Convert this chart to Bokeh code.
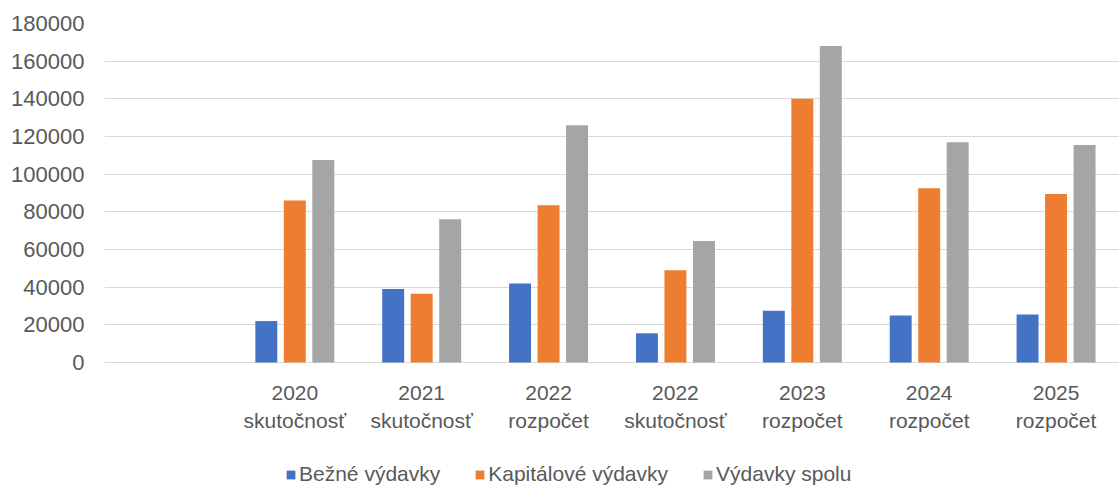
import numpy as np
from bokeh.plotting import figure
from bokeh.models import (Range1d, FixedTicker, NumeralTickFormatter,
                          Legend, LegendItem, ColumnDataSource)
from bokeh.core.properties import value
from bokeh.embed import file_html
from bokeh.resources import INLINE

# ---- data ----
years = ["", "2020", "2021", "2022", "2022", "2023", "2024", "2025"]
kinds = ["", "skutočnosť", "skutočnosť", "rozpočet", "skutočnosť", "rozpočet", "rozpočet", "rozpočet"]
bezne = [np.nan, 22000, 39000, 42000, 15500, 27500, 25000, 25500]
kapitalove = [np.nan, 86000, 36500, 83500, 49000, 140000, 92500, 89500]
spolu = [np.nan, 107500, 76000, 126000, 64500, 168000, 117000, 115500]
series_names = ["Bežné výdavky", "Kapitálové výdavky", "Výdavky spolu"]
colors = ["#4472C4", "#ED7D31", "#A5A5A5"]
y_ticks = [0, 20000, 40000, 60000, 80000, 100000, 120000, 140000, 160000, 180000]

FONT = "Liberation Sans"
TXT = "#595959"

W, H = 1119, 486
TOP, LEFT = 23, 104
PLOT_H = 339  # pixel height of the 0..180000 value area
y_max = 180000
y_min = -y_max * (H - TOP - PLOT_H) / PLOT_H  # space under the bars for labels and legend

n = len(years)
centers = np.arange(n) + 0.5

p = figure(width=W, height=H, output_backend="svg", toolbar_location=None,
           x_range=Range1d(0, n), y_range=Range1d(y_min, y_max), x_axis_location=None,
           min_border_left=LEFT, min_border_right=0, min_border_top=TOP, min_border_bottom=0)
p.outline_line_color = None
p.background_fill_color = "white"
p.border_fill_color = "white"

step = 0.2246
bw = 0.173
renderers = []
for i, (vals, c) in enumerate(zip([bezne, kapitalove, spolu], colors)):
    src = ColumnDataSource(dict(x=centers + (i - 1) * step, top=vals))
    r = p.vbar(x="x", top="top", width=bw, bottom=0, source=src, fill_color=c, line_color=None)
    renderers.append(r)

# category labels (two lines) under the zero line
lab_src = ColumnDataSource(dict(x=centers[1:], y=[0] * (n - 1), l1=years[1:], l2=kinds[1:]))
p.text(x="x", y="y", text="l1", source=lab_src, y_offset=30, text_align="center",
       text_baseline="middle", text_font=value(FONT), text_font_size="21px", text_color=TXT)
p.text(x="x", y="y", text="l2", source=lab_src, y_offset=58, text_align="center",
       text_baseline="middle", text_font=value(FONT), text_font_size="21px", text_color=TXT)

# y axis
p.yaxis.ticker = FixedTicker(ticks=y_ticks)
p.yaxis.formatter = NumeralTickFormatter(format="0")
p.yaxis.axis_line_color = None
p.yaxis.major_tick_line_color = None
p.yaxis.minor_tick_line_color = None
p.yaxis.major_label_text_font = FONT
p.yaxis.major_label_text_font_size = "22px"
p.yaxis.major_label_text_color = TXT
p.yaxis.major_label_standoff = 14
p.ygrid.ticker = FixedTicker(ticks=y_ticks)
p.ygrid.grid_line_color = "#D9D9D9"
p.ygrid.grid_line_width = 1
p.xgrid.grid_line_color = None

legend = Legend(items=[LegendItem(label=nm, renderers=[r]) for nm, r in zip(series_names, renderers)],
                orientation="horizontal", location=(181, 0),
                label_text_font=FONT, label_text_font_size="21px", label_text_color=TXT,
                glyph_width=11, glyph_height=11, label_standoff=3, spacing=34, label_height=24,
                border_line_color=None, background_fill_alpha=0, padding=0, margin=0)
p.add_layout(legend)

open("out.html", "w").write(file_html(p, INLINE))
